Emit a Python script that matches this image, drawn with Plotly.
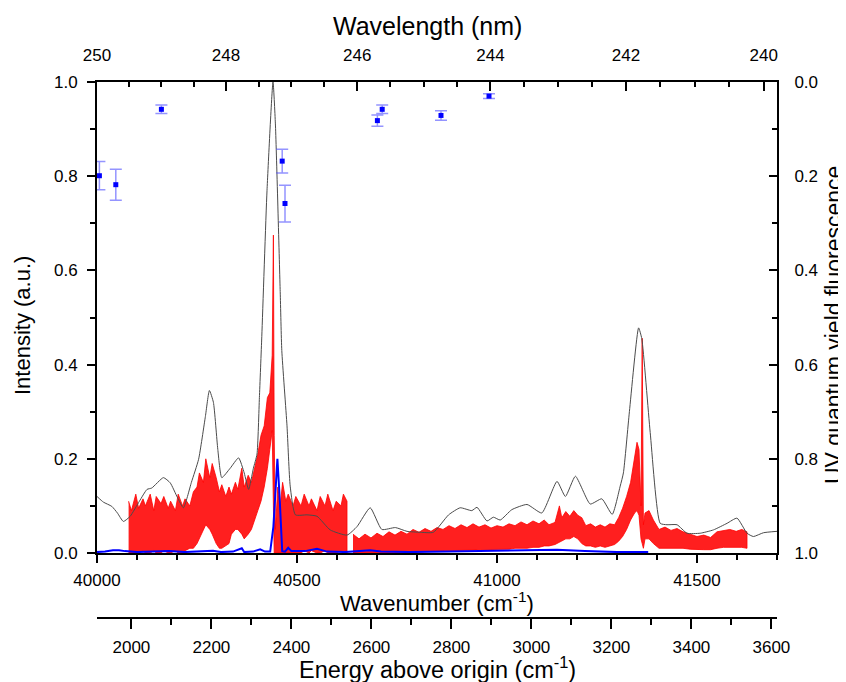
import plotly.graph_objects as go

# ---------------- data ----------------
# grey spectrum (wavenumber cm-1, intensity)
grey_wn = [40000, 40016, 40037, 40051, 40066, 40083, 40106, 40125, 40137, 40166, 40183, 40201,
           40216, 40236, 40254, 40271, 40281, 40291, 40302, 40312, 40333, 40354, 40368, 40379,
           40391, 40400, 40406, 40412, 40425, 40440, 40446, 40458, 40462, 40475, 40483, 40496,
           40525, 40550, 40583, 40625, 40650, 40683, 40712, 40746, 40775, 40808, 40841, 40879,
           40908, 40937, 40950, 40975, 40991, 41008, 41037, 41075, 41112, 41150, 41171, 41196,
           41233, 41262, 41288, 41308, 41316, 41331, 41354, 41362, 41383, 41408, 41425, 41450,
           41475, 41508, 41541, 41575, 41600, 41625, 41641, 41666, 41700]
grey_val = [0.120, 0.108, 0.099, 0.085, 0.067, 0.078, 0.110, 0.135, 0.138, 0.160, 0.149, 0.118,
            0.096, 0.150, 0.199, 0.290, 0.345, 0.320, 0.220, 0.160, 0.180, 0.202, 0.170, 0.135,
            0.180, 0.210, 0.330, 0.460, 0.769, 1.000, 0.911, 0.555, 0.430, 0.270, 0.142, 0.081,
            0.081, 0.078, 0.049, 0.038, 0.056, 0.096, 0.050, 0.054, 0.046, 0.044, 0.044, 0.081,
            0.096, 0.090, 0.097, 0.068, 0.076, 0.070, 0.092, 0.103, 0.085, 0.152, 0.120, 0.163,
            0.104, 0.115, 0.082, 0.142, 0.170, 0.300, 0.478, 0.455, 0.256, 0.063, 0.060, 0.060,
            0.042, 0.042, 0.049, 0.063, 0.074, 0.042, 0.035, 0.043, 0.046]

# red spectrum, drawn as its envelope (upper / lower edge), two recorded segments
red1_wn = [40079, 40086, 40097, 40104, 40115, 40121, 40133, 40142, 40148, 40160, 40167, 40178,
           40184, 40196, 40203, 40214, 40220, 40232, 40241, 40250, 40256, 40266, 40272, 40282,
           40288, 40298, 40306, 40312, 40322, 40330, 40336, 40346, 40352, 40362, 40368, 40378,
           40386, 40394, 40402, 40410, 40418, 40426, 40432, 40438, 40441, 40443, 40446, 40452,
           40458, 40464, 40472, 40478, 40490, 40497, 40510, 40518, 40530, 40536, 40550, 40558,
           40570, 40577, 40590, 40598, 40610, 40616, 40625]
red1_top = [0.11, 0.09, 0.125, 0.095, 0.115, 0.10, 0.125, 0.09, 0.12, 0.105, 0.12, 0.095,
            0.11, 0.09, 0.125, 0.10, 0.115, 0.10, 0.13, 0.14, 0.17, 0.15, 0.20, 0.16,
            0.19, 0.16, 0.13, 0.145, 0.12, 0.14, 0.125, 0.15, 0.135, 0.18, 0.14, 0.165,
            0.15, 0.18, 0.21, 0.25, 0.27, 0.33, 0.34, 0.42, 0.675, 0.25, 0.05, 0.14,
            0.10, 0.15, 0.11, 0.125, 0.10, 0.12, 0.10, 0.125, 0.10, 0.115, 0.09, 0.12,
            0.10, 0.125, 0.09, 0.11, 0.10, 0.125, 0.11]
red1_low = [0.0, 0.0, 0.0, 0.0, 0.005, 0.0, 0.0, 0.005, 0.0, 0.0, 0.005, 0.0,
            0.0, 0.005, 0.0, 0.0, 0.005, 0.01, 0.01, 0.02, 0.03, 0.05, 0.06, 0.05,
            0.04, 0.02, 0.01, 0.01, 0.015, 0.02, 0.04, 0.05, 0.05, 0.04, 0.03, 0.04,
            0.05, 0.07, 0.09, 0.11, 0.14, 0.18, 0.22, 0.26, 0.10, 0.0, 0.0, 0.0,
            0.0, 0.0, 0.0, 0.0, 0.0, 0.0, 0.0, 0.005, 0.0, 0.005, 0.0, 0.0,
            0.005, 0.0, 0.0, 0.0, 0.005, 0.0, 0.0]

red2_wn = [40640, 40655, 40670, 40685, 40700, 40715, 40730, 40745, 40760, 40775, 40790, 40805,
           40820, 40835, 40850, 40865, 40880, 40895, 40910, 40925, 40940, 40955, 40970, 40985,
           41000, 41015, 41030, 41045, 41060, 41075, 41090, 41105, 41118, 41130, 41145, 41156,
           41162, 41172, 41182, 41192, 41202, 41212, 41222, 41234, 41246, 41258, 41270, 41282,
           41294, 41304, 41314, 41324, 41334, 41344, 41350, 41355, 41360, 41363, 41366, 41370,
           41380, 41391, 41405, 41420, 41435, 41450, 41465, 41483, 41500, 41517, 41534, 41550,
           41566, 41582, 41598, 41612, 41625]
red2_top = [0.040, 0.030, 0.040, 0.032, 0.042, 0.035, 0.045, 0.038, 0.046, 0.040, 0.050, 0.044,
            0.052, 0.046, 0.054, 0.050, 0.058, 0.052, 0.060, 0.054, 0.062, 0.055, 0.060, 0.053,
            0.058, 0.055, 0.062, 0.058, 0.066, 0.060, 0.068, 0.062, 0.070, 0.060, 0.065, 0.100,
            0.075, 0.088, 0.078, 0.090, 0.080, 0.075, 0.058, 0.062, 0.055, 0.060, 0.055, 0.062,
            0.060, 0.075, 0.095, 0.120, 0.150, 0.200, 0.235, 0.220, 0.100, 0.456, 0.060, 0.085,
            0.090, 0.070, 0.050, 0.055, 0.048, 0.052, 0.045, 0.040, 0.035, 0.038, 0.033, 0.045,
            0.048, 0.050, 0.046, 0.050, 0.045]
red2_low = [0.0, 0.0, 0.0, 0.0, 0.0, 0.0, 0.0, 0.001, 0.001, 0.001, 0.002, 0.002,
            0.003, 0.003, 0.004, 0.004, 0.005, 0.005, 0.006, 0.006, 0.006, 0.007, 0.007, 0.007,
            0.008, 0.008, 0.008, 0.010, 0.010, 0.010, 0.012, 0.012, 0.015, 0.015, 0.018, 0.022,
            0.025, 0.030, 0.030, 0.035, 0.030, 0.020, 0.015, 0.015, 0.012, 0.015, 0.012, 0.015,
            0.018, 0.025, 0.035, 0.050, 0.070, 0.085, 0.090, 0.080, 0.030, 0.020, 0.010, 0.030,
            0.030, 0.020, 0.010, 0.010, 0.010, 0.010, 0.010, 0.008, 0.007, 0.007, 0.007, 0.010,
            0.012, 0.012, 0.012, 0.012, 0.010]

# blue spectrum
blue_wn = [40000, 40020, 40040, 40055, 40070, 40100, 40140, 40180, 40220, 40260, 40290, 40310,
           40340, 40362, 40368, 40390, 40408, 40420, 40433, 40441, 40446, 40451, 40456, 40460,
           40463, 40470, 40478, 40486, 40520, 40550, 40575, 40620, 40660, 40683, 40710, 40780,
           40880, 40980, 41080, 41150, 41220, 41300, 41378]
blue_val = [0.002, 0.003, 0.006, 0.006, 0.004, 0.002, 0.003, 0.004, 0.002, 0.003, 0.005, 0.002,
            0.003, 0.010, 0.002, 0.003, 0.008, 0.003, 0.003, 0.056, 0.127, 0.200, 0.127, 0.042,
            0.004, 0.003, 0.011, 0.004, 0.004, 0.009, 0.003, 0.002, 0.004, 0.006, 0.003, 0.002,
            0.003, 0.004, 0.005, 0.007, 0.004, 0.002, 0.002]

# UV quantum yield of fluorescence (right, reversed axis)
qy_wn = [40006, 40047, 40161, 40463, 40470, 40701, 40713, 40860, 40980]
qy_val = [0.199, 0.218, 0.058, 0.168, 0.258, 0.082, 0.058, 0.071, 0.030]
qy_err = [0.030, 0.033, 0.009, 0.025, 0.039, 0.012, 0.009, 0.010, 0.005]

# axis tick definitions
wavelength_major = [250, 248, 246, 244, 242, 240]
wavelength_minor = [249.5, 249, 248.5, 247.5, 247, 246.5, 245.5, 245, 244.5,
                    243.5, 243, 242.5, 241.5, 241, 240.5]
wn_range = [40000, 41700]
origin_wn = 38086  # band origin: energy above origin = wavenumber - origin

# ---------------- figure ----------------
FONT = 'Arial, "Liberation Sans", sans-serif'

red_x = red1_wn + red1_wn[::-1] + [None] + red2_wn + red2_wn[::-1]
red_y = red1_top + red1_low[::-1] + [None] + red2_top + red2_low[::-1]

fig = go.Figure()
fig.add_trace(go.Scatter(x=red_x, y=red_y, mode='lines', fill='toself',
                         fillcolor='rgba(255,0,0,0.88)', line=dict(color='red', width=0.8),
                         xaxis='x', yaxis='y', hoverinfo='skip'))
fig.add_trace(go.Scatter(x=grey_wn, y=grey_val, mode='lines',
                         line=dict(color='rgb(75,75,75)', width=1, shape='spline',
                                   smoothing=0.5),
                         xaxis='x', yaxis='y'))
fig.add_trace(go.Scatter(x=blue_wn, y=blue_val, mode='lines',
                         line=dict(color='blue', width=2), xaxis='x', yaxis='y'))
fig.add_trace(go.Scatter(x=qy_wn, y=qy_val, mode='markers',
                         marker=dict(symbol='square', size=5, color='blue'),
                         error_y=dict(type='data', array=qy_err, color='rgba(60,60,255,0.55)',
                                      thickness=1.5, width=6),
                         xaxis='x', yaxis='y2'))
# carriers for the extra x axes
fig.add_trace(go.Scatter(x=wn_range, y=[None, None], xaxis='x2', yaxis='y', hoverinfo='skip'))
fig.add_trace(go.Scatter(x=[wn_range[0] - origin_wn, wn_range[1] - origin_wn], y=[None, None],
                         xaxis='x3', yaxis='y', hoverinfo='skip'))

# the page puts the figure 8 px in from the window's top-left corner
OFF = 8
WIN_W, WIN_H = 846, 682
W, H = WIN_W - OFF, WIN_H - OFF
# frame positions in window pixels
L, R, T, B = 97 - OFF, 777 - OFF, 82 - OFF, 618 - OFF
PLOT_BOTTOM = 553 - OFF
ydom0 = (B - PLOT_BOTTOM) / (B - T)

axis_common = dict(showline=True, linecolor='black', linewidth=2, showgrid=False,
                   zeroline=False, tickcolor='black', tickwidth=2,
                   tickfont=dict(size=17, color='black', family=FONT))

fig.update_layout(
    width=W, height=H,
    margin=dict(l=L, r=W - R, t=T, b=H - B, pad=0),
    paper_bgcolor='white', plot_bgcolor='white',
    showlegend=False,
    font=dict(family=FONT, color='black'),
    xaxis=dict(domain=[0, 1], range=wn_range, anchor='y', side='bottom',
               tickmode='linear', tick0=40000, dtick=500, tickformat='d',
               ticks='outside', ticklen=8, ticklabelstandoff=3,
               minor=dict(tickmode='linear', tick0=40000, dtick=100, ticks='outside',
                          ticklen=5, tickwidth=1.5, tickcolor='black', showgrid=False),
               **axis_common),
    xaxis2=dict(overlaying='x', side='top', anchor='y', range=wn_range,
                tickmode='array', tickvals=[1e7 / w for w in wavelength_major],
                ticktext=[str(w) for w in wavelength_major],
                ticks='inside', ticklen=9, ticklabelstandoff=12,
                minor=dict(tickmode='array', tickvals=[1e7 / w for w in wavelength_minor],
                           ticks='inside', ticklen=5, tickwidth=1.5, tickcolor='black',
                           showgrid=False),
                **axis_common),
    xaxis3=dict(overlaying='x', side='bottom', anchor='free', position=0,
                range=[wn_range[0] - origin_wn, wn_range[1] - origin_wn],
                tickmode='linear', tick0=2000, dtick=200, tickformat='d',
                ticks='outside', ticklen=10, ticklabelstandoff=4,
                minor=dict(tickmode='linear', tick0=2000, dtick=100, ticks='outside',
                           ticklen=6, tickwidth=1.5, tickcolor='black', showgrid=False),
                **axis_common),
    yaxis=dict(domain=[ydom0, 1], range=[0, 1], anchor='x', side='left',
               tickmode='linear', tick0=0, dtick=0.2, tickformat='.1f',
               ticks='outside', ticklen=8, ticklabelstandoff=6,
               minor=dict(tickmode='linear', tick0=0, dtick=0.1, ticks='outside',
                          ticklen=5, tickwidth=1.5, tickcolor='black', showgrid=False),
               **axis_common),
    yaxis2=dict(overlaying='y', side='right', anchor='x', range=[1, 0],
                tickmode='linear', tick0=0, dtick=0.2, tickformat='.1f',
                ticks='inside', ticklen=8, ticklabelstandoff=12,
                minor=dict(tickmode='linear', tick0=0, dtick=0.1, ticks='inside',
                           ticklen=5, tickwidth=1.5, tickcolor='black', showgrid=False),
                **axis_common),
)


def px_to_paper(wx, wy):
    # window pixel -> paper fraction
    px, py = wx - OFF, wy - OFF
    return (px - L) / (R - L), (B - py) / (B - T)


titles = [
    ("Wavelength (nm)", 427, 26, 25, 0),
    ("Wavenumber (cm<sup>-1</sup>)", 437, 602, 22, 0),
    ("Energy above origin (cm<sup>-1</sup>)", 437, 668, 23.5, 0),
    ("Intensity (a.u.)", 22, 326, 22, -90),
    ("UV quantum yield fluorescence", 834, 325, 23, -90),
]
for text, wx, wy, size, ang in titles:
    ax_, ay_ = px_to_paper(wx, wy)
    fig.add_annotation(text=text, x=ax_, y=ay_, xref='paper', yref='paper',
                       xanchor='center', yanchor='middle', showarrow=False,
                       textangle=ang, font=dict(size=size, color='black', family=FONT))

fig.write_html("out.html")
